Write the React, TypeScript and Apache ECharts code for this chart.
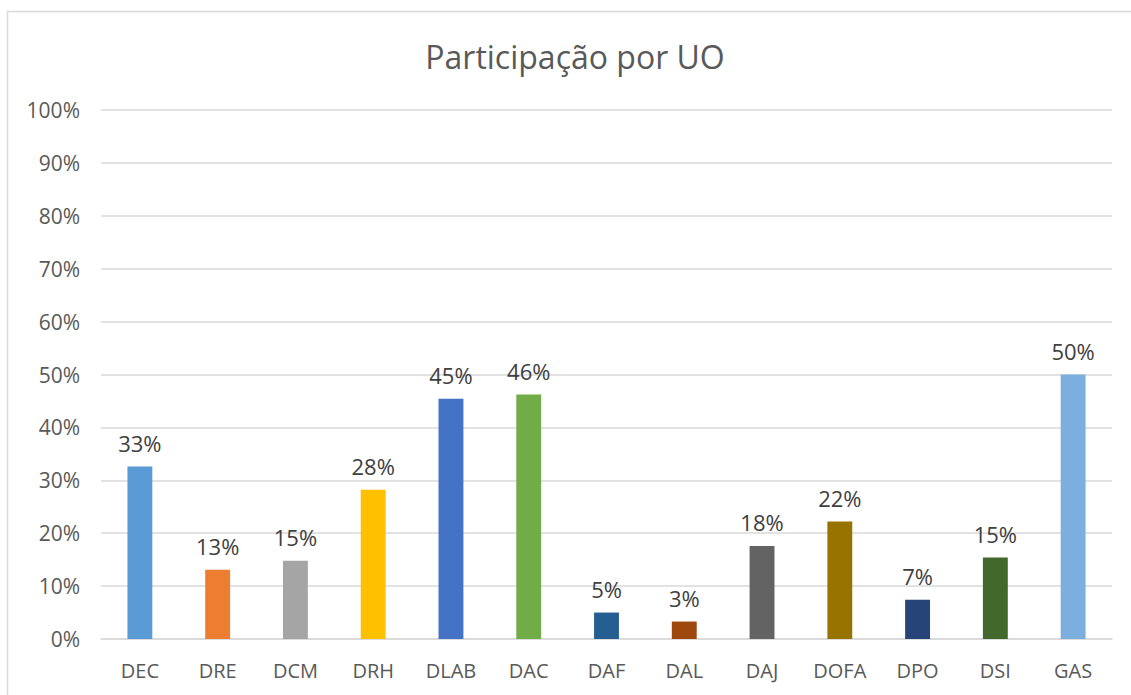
import React, { useEffect, useRef } from "react";
import * as echarts from "echarts";

const categories = ["DEC", "DRE", "DCM", "DRH", "DLAB", "DAC", "DAF", "DAL", "DAJ", "DOFA", "DPO", "DSI", "GAS"];
const values = [0.326, 0.131, 0.148, 0.282, 0.454, 0.462, 0.05, 0.033, 0.176, 0.222, 0.074, 0.154, 0.5];
const barColors = [
  "#5B9BD5", "#ED7D31", "#A5A5A5", "#FFC000", "#4472C4", "#70AD47",
  "#255E91", "#9E480E", "#636363", "#997300", "#264478", "#43682B", "#7CAFDD",
];
const yTicks = [0, 0.1, 0.2, 0.3, 0.4, 0.5, 0.6, 0.7, 0.8, 0.9, 1];
const titleText = "Participação por UO";

const FONT = "'Open Sans', 'Noto Sans', sans-serif";

export default function App() {
  const ref = useRef<HTMLDivElement>(null);
  useEffect(() => {
    if (!ref.current) return;
    const chart = echarts.init(ref.current, undefined, { renderer: "svg" });
    chart.setOption({
      animation: false,
      backgroundColor: "#ffffff",
      textStyle: { fontFamily: FONT },
      graphic: [
        {
          type: "rect",
          shape: { x: 7.5, y: 11.5, width: 1300, height: 900 },
          style: { fill: "none", stroke: "#D9D9D9", lineWidth: 1.5 },
          silent: true,
          z: -1,
        },
        {
          type: "text",
          x: 575,
          y: 56,
          style: {
            text: titleText,
            fill: "#595959",
            font: `32px ${FONT}`,
            textAlign: "center",
            textVerticalAlign: "middle",
          },
        },
      ],
      grid: { left: 101, right: 19, top: 110, bottom: 56, containLabel: false },
      xAxis: {
        type: "category",
        data: categories,
        axisLine: { show: true, lineStyle: { color: "#D9D9D9", width: 1.5 } },
        axisTick: { show: false },
        axisLabel: { color: "#595959", fontSize: 20, margin: 21, fontFamily: FONT },
      },
      yAxis: {
        type: "value",
        min: yTicks[0],
        max: yTicks[yTicks.length - 1],
        interval: 0.1,
        axisLine: { show: false },
        axisTick: { show: false },
        splitLine: { lineStyle: { color: "#D9D9D9", width: 1.5 } },
        axisLabel: {
          color: "#595959",
          fontSize: 21,
          margin: 21,
          fontFamily: FONT,
          formatter: (v: number) => `${Math.round(v * 100)}%`,
        },
      },
      series: [
        {
          type: "bar",
          barWidth: "32%",
          data: values.map((v, i) => ({ value: v, itemStyle: { color: barColors[i] } })),
          label: {
            show: true,
            position: "top",
            distance: 13,
            color: "#404040",
            fontSize: 22,
            fontFamily: FONT,
            formatter: (p: any) => `${Math.round(p.value * 100)}%`,
          },
        },
      ],
    });
    return () => chart.dispose();
  }, []);
  return (
    <div
      ref={ref}
      style={{ position: "fixed", left: 0, top: 0, width: 1131, height: 695 }}
    />
  );
}
